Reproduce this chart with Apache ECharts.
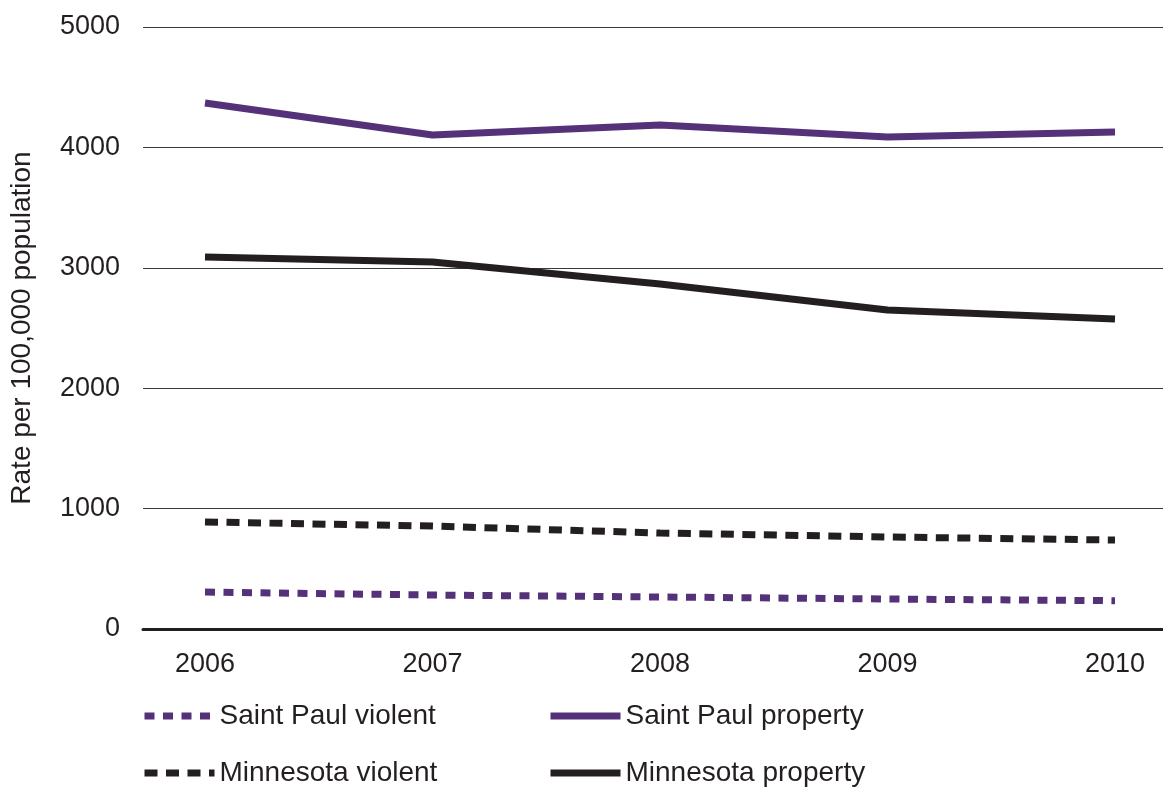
<!DOCTYPE html>
<html>
<head>
<meta charset="utf-8">
<script src="https://cdn.jsdelivr.net/npm/echarts@6/dist/echarts.min.js"></script>
<style>html,body{margin:0;padding:0;background:#fff;}#c{width:1163px;height:787px;}</style>
</head>
<body>
<div id="c"></div>
<script>
const years = ['2006', '2007', '2008', '2009', '2010'];
const saintPaulViolent = [307, 282, 266, 249, 235];
const saintPaulProperty = [4369, 4103, 4186, 4086, 4128];
const minnesotaViolent = [889, 855, 797, 764, 739];
const minnesotaProperty = [3090, 3048, 2865, 2650, 2575];
const yTicks = [0, 1000, 2000, 3000, 4000, 5000];

const PURPLE = '#55317a';
const BLACK = '#231f20';
const FONT = 'Liberation Sans';

function legendFor(name, left, top) {
  return {
    left: left, top: top, padding: 0, itemWidth: 70, itemHeight: 14, itemTextGap: 13,
    itemStyle: { opacity: 0 },
    lineStyle: { width: 7, cap: 'butt' },
    textStyle: { fontSize: 28, color: BLACK, fontFamily: FONT },
    data: [name]
  };
}

const chart = echarts.init(document.getElementById('c'));
chart.setOption({
  animation: false,
  backgroundColor: '#fff',
  textStyle: { fontFamily: FONT, color: BLACK },
  grid: [
    { left: 143, right: 0, top: 27, bottom: 158 },
    { left: 205, right: 48, top: 27, bottom: 158 }
  ],
  xAxis: [
    { type: 'value', gridIndex: 0, min: 0, max: 1,
      axisLine: { show: true, lineStyle: { color: BLACK, width: 3 } },
      axisTick: { show: false }, axisLabel: { show: false }, splitLine: { show: false } },
    { type: 'category', gridIndex: 1, data: years, boundaryGap: false,
      axisLine: { show: false }, axisTick: { show: false }, splitLine: { show: false },
      axisLabel: { fontSize: 27, color: BLACK, margin: 22, fontFamily: FONT } }
  ],
  yAxis: [
    { type: 'value', gridIndex: 0, min: yTicks[0], max: yTicks[yTicks.length - 1], interval: 1000,
      name: 'Rate per 100,000 population', nameLocation: 'middle', nameGap: 107, nameRotate: 90,
      nameTextStyle: { fontSize: 28, color: BLACK, fontFamily: FONT },
      axisLine: { show: false }, axisTick: { show: false },
      axisLabel: { fontSize: 27, color: BLACK, margin: 23, fontFamily: FONT,
        formatter: function (v) { return String(v); } },
      splitLine: { show: true, lineStyle: { color: '#3a3a3a', width: 1 } } },
    { type: 'value', gridIndex: 1, min: yTicks[0], max: yTicks[yTicks.length - 1], show: false,
      splitLine: { show: false } }
  ],
  legend: [
    legendFor('Saint Paul violent', 141, 702),
    legendFor('Minnesota violent', 141, 759),
    legendFor('Saint Paul property', 547, 702),
    legendFor('Minnesota property', 547, 759)
  ],
  series: [
    { name: 'Saint Paul violent', type: 'line', xAxisIndex: 1, yAxisIndex: 1, data: saintPaulViolent,
      symbol: 'none', color: PURPLE,
      lineStyle: { color: PURPLE, width: 7, type: [10, 8.5], cap: 'butt' } },
    { name: 'Saint Paul property', type: 'line', xAxisIndex: 1, yAxisIndex: 1, data: saintPaulProperty,
      symbol: 'none', color: PURPLE,
      lineStyle: { color: PURPLE, width: 7, cap: 'butt' } },
    { name: 'Minnesota violent', type: 'line', xAxisIndex: 1, yAxisIndex: 1, data: minnesotaViolent,
      symbol: 'none', color: BLACK,
      lineStyle: { color: BLACK, width: 7, type: [13, 8.5], cap: 'butt' } },
    { name: 'Minnesota property', type: 'line', xAxisIndex: 1, yAxisIndex: 1, data: minnesotaProperty,
      symbol: 'none', color: BLACK,
      lineStyle: { color: BLACK, width: 7, cap: 'butt' } }
  ]
});
</script>
</body>
</html>
